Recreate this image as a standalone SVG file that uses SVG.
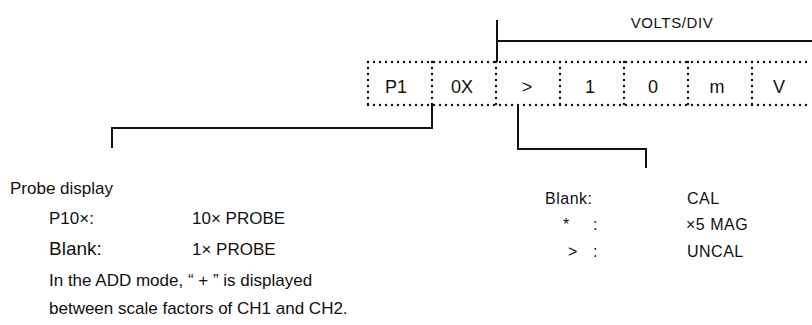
<svg xmlns="http://www.w3.org/2000/svg" width="812" height="325" viewBox="0 0 812 325">
<style>
text{font-family:"Liberation Sans",Arial,sans-serif;fill:#111}
.t{font-size:17px}
.r{font-size:16px;letter-spacing:0.5px}
.c{font-size:18px;text-anchor:middle}
.big{font-size:19px}
.dot{stroke:#111;stroke-width:2.4;stroke-linecap:round;stroke-dasharray:0 6;fill:none}
.ln{stroke:#111;stroke-width:2;fill:none}
</style>
<rect width="812" height="325" fill="#fff"/>
<g id="display">
<line class="dot" x1="368" y1="62" x2="812" y2="62"/>
<line class="dot" x1="368" y1="105" x2="812" y2="105"/>
<line class="dot" x1="368" y1="62" x2="368" y2="105"/>
<line class="dot" x1="432" y1="62" x2="432" y2="105"/>
<line class="dot" x1="496" y1="62" x2="496" y2="105"/>
<line class="dot" x1="560" y1="62" x2="560" y2="105"/>
<line class="dot" x1="624" y1="62" x2="624" y2="105"/>
<line class="dot" x1="688" y1="62" x2="688" y2="105"/>
<line class="dot" x1="752" y1="62" x2="752" y2="105"/>
<text class="c" x="396" y="93">P1</text>
<text class="c" x="462" y="93">0X</text>
<text class="c" x="527" y="93">&gt;</text>
<text class="c" x="590" y="93">1</text>
<text class="c" x="653" y="93">0</text>
<text class="c" x="717" y="93">m</text>
<text class="c" x="779" y="93">V</text>
</g>
<g id="voltsdiv">
<text x="672" y="28" text-anchor="middle" font-size="15" letter-spacing="0.6">VOLTS/DIV</text>
</g>
<g id="probe">
<text class="t" x="10" y="194">Probe display</text>
<text class="t" x="49" y="224">P10×:</text>
<text class="t" x="192" y="224">10× PROBE</text>
<text class="big" x="49" y="255">Blank:</text>
<text class="t" x="192" y="255">1× PROBE</text>
<text class="t" x="49" y="286">In the ADD mode, “ + ” is displayed</text>
<text class="t" x="49" y="314">between scale factors of CH1 and CH2.</text>
</g>
<g id="cal">
<text class="r" x="545" y="204">Blank:</text>
<text class="r" x="687" y="204">CAL</text>
<text class="r" x="563" y="230">*</text>
<text class="r" x="593" y="230">:</text>
<text class="r" x="686" y="230">×5 MAG</text>
<text class="r" x="568" y="257">&gt;</text>
<text class="r" x="593" y="257">:</text>
<text class="r" x="687" y="257">UNCAL</text>
</g>
<g id="connectors">
<polyline class="ln" points="497,20 497,62"/>
<polyline class="ln" points="497,41 812,41"/>
<polyline class="ln" points="432,105 432,128 112,128 112,148"/>
<polyline class="ln" points="518,105 518,149 646,149 646,168"/>
</g>
</svg>
